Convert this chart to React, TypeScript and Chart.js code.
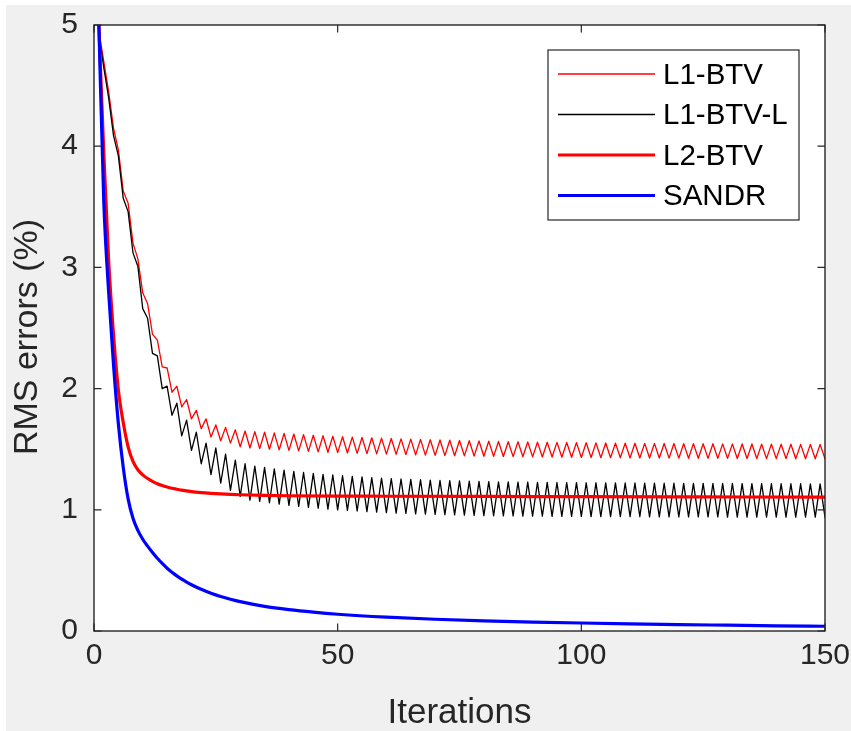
import React, { useEffect, useRef } from "react";
import { Chart, registerables } from "chart.js";

Chart.register(...registerables);

// ---------- data ----------
const iterations: number[] = Array.from({ length: 150 }, (_, i) => i + 1);

const l1btv: number[] = [
  4.95, 4.70, 4.45, 4.15, 3.97, 3.63, 3.53, 3.20, 3.07, 2.79,
  2.70, 2.45, 2.40, 2.18, 2.17, 1.97, 2.02, 1.85, 1.91, 1.75,
  1.82, 1.67, 1.75, 1.60, 1.70, 1.57, 1.68, 1.55, 1.66, 1.52,
  1.65, 1.51, 1.645, 1.505, 1.640, 1.500, 1.635, 1.495, 1.630, 1.490,
  1.625, 1.486, 1.620, 1.482, 1.615, 1.478, 1.611, 1.475, 1.607, 1.472,
  1.603, 1.469, 1.600, 1.466, 1.597, 1.463, 1.594, 1.461, 1.591, 1.459,
  1.588, 1.457, 1.585, 1.455, 1.583, 1.453, 1.581, 1.451, 1.578, 1.449,
  1.576, 1.447, 1.574, 1.446, 1.572, 1.445, 1.570, 1.443, 1.568, 1.442,
  1.566, 1.441, 1.564, 1.440, 1.562, 1.439, 1.561, 1.438, 1.560, 1.437,
  1.558, 1.436, 1.557, 1.435, 1.556, 1.434, 1.555, 1.433, 1.554, 1.432,
  1.553, 1.431, 1.552, 1.430, 1.551, 1.430, 1.550, 1.429, 1.550, 1.428,
  1.549, 1.428, 1.548, 1.427, 1.548, 1.427, 1.547, 1.426, 1.547, 1.426,
  1.546, 1.425, 1.546, 1.425, 1.545, 1.424, 1.545, 1.424, 1.544, 1.424,
  1.544, 1.423, 1.543, 1.423, 1.543, 1.423, 1.542, 1.422, 1.542, 1.422,
  1.541, 1.422, 1.541, 1.421, 1.540, 1.421, 1.540, 1.421, 1.540, 1.420,
];

const l1btvL: number[] = [
  4.93, 4.65, 4.40, 4.09, 3.92, 3.57, 3.46, 3.12, 3.01, 2.66,
  2.58, 2.29, 2.27, 2.00, 2.02, 1.78, 1.88, 1.61, 1.74, 1.49,
  1.64, 1.38, 1.55, 1.29, 1.51, 1.22, 1.46, 1.16, 1.41, 1.11,
  1.38, 1.08, 1.36, 1.07, 1.35, 1.058, 1.338, 1.047, 1.327, 1.037,
  1.317, 1.028, 1.308, 1.020, 1.300, 1.013, 1.293, 1.006, 1.287, 1.000,
  1.281, 0.995, 1.276, 0.990, 1.271, 0.985, 1.266, 0.981, 1.262, 0.977,
  1.258, 0.973, 1.254, 0.970, 1.251, 0.967, 1.248, 0.964, 1.245, 0.962,
  1.242, 0.960, 1.240, 0.958, 1.238, 0.956, 1.236, 0.954, 1.234, 0.952,
  1.232, 0.951, 1.231, 0.950, 1.230, 0.949, 1.229, 0.948, 1.228, 0.947,
  1.227, 0.947, 1.226, 0.946, 1.225, 0.946, 1.225, 0.945, 1.224, 0.945,
  1.223, 0.944, 1.223, 0.944, 1.222, 0.944, 1.222, 0.943, 1.221, 0.943,
  1.221, 0.943, 1.220, 0.942, 1.220, 0.942, 1.219, 0.942, 1.219, 0.942,
  1.218, 0.941, 1.218, 0.941, 1.218, 0.941, 1.217, 0.941, 1.217, 0.940,
  1.217, 0.940, 1.216, 0.940, 1.216, 0.940, 1.216, 0.940, 1.215, 0.939,
  1.215, 0.939, 1.215, 0.939, 1.215, 0.939, 1.214, 0.939, 1.214, 0.938,
];

const l2Iter: number[] = [
  1, 2, 3, 4, 5, 6, 7, 8, 9, 10, 11, 12, 13, 14, 15, 16, 17, 18, 19, 20,
  22, 24, 26, 28, 30, 35, 40, 50, 60, 80, 100, 125, 150,
];
const l2btv: number[] = [
  5.0, 3.95, 3.06, 2.45, 1.99, 1.72, 1.52, 1.40, 1.33, 1.288, 1.258, 1.235,
  1.215, 1.20, 1.188, 1.178, 1.170, 1.162, 1.156, 1.150,
  1.142, 1.136, 1.131, 1.127, 1.124, 1.119, 1.116, 1.113, 1.112, 1.110,
  1.108, 1.106, 1.105,
];

const sandrIter: number[] = [
  1, 2, 3, 4, 5, 6, 7, 8, 9, 10, 11, 12, 13, 14, 15, 16, 17, 18, 19, 20,
  22, 24, 26, 28, 30, 35, 40, 45, 50, 60, 70, 80, 90, 100, 110, 120, 130, 140, 150,
];
const sandr: number[] = [
  5.0, 3.55, 2.80, 2.20, 1.71, 1.35, 1.09, 0.93, 0.83, 0.757, 0.70, 0.648,
  0.600, 0.557, 0.518, 0.485, 0.455, 0.428, 0.404, 0.382,
  0.344, 0.312, 0.285, 0.262, 0.242, 0.203, 0.176, 0.155, 0.138, 0.114,
  0.097, 0.084, 0.074, 0.066, 0.059, 0.053, 0.048, 0.043, 0.039,
];

const seriesLabels: string[] = ["L1-BTV", "L1-BTV-L", "L2-BTV", "SANDR"];
const xTicks: number[] = [0, 50, 100, 150];
const yTicks: number[] = [0, 1, 2, 3, 4, 5];
const xTitle = "Iterations";
const yTitle = "RMS errors (%)";

const FONT = "'Liberation Sans', Arial, Helvetica, sans-serif";
const AXIS_COLOR = "#262626";

const matlabPlugin = {
  id: "matlabLook",
  beforeDraw(chart: any) {
    const { ctx, width, height, chartArea: a } = chart;
    ctx.save();
    ctx.fillStyle = "#ffffff";
    ctx.fillRect(0, 0, width, height);
    ctx.fillStyle = "#f0f0f0";
    ctx.fillRect(6, 5, width - 6, height - 5);
    ctx.fillStyle = "#ffffff";
    ctx.fillRect(a.left, a.top, a.right - a.left, a.bottom - a.top);
    ctx.restore();
  },
  afterDatasetsDraw(chart: any) {
    const { ctx, chartArea: a, scales } = chart;
    const xs = scales.x;
    const ys = scales.y;
    ctx.save();
    // axes box
    ctx.strokeStyle = AXIS_COLOR;
    ctx.lineWidth = 1.4;
    ctx.strokeRect(a.left, a.top, a.right - a.left, a.bottom - a.top);
    // inward ticks
    const tl = 7.5;
    ctx.lineWidth = 1.2;
    ctx.beginPath();
    xTicks.forEach((v) => {
      const px = xs.getPixelForValue(v);
      ctx.moveTo(px, a.bottom);
      ctx.lineTo(px, a.bottom - tl);
      ctx.moveTo(px, a.top);
      ctx.lineTo(px, a.top + tl);
    });
    yTicks.forEach((v) => {
      const py = ys.getPixelForValue(v);
      ctx.moveTo(a.left, py);
      ctx.lineTo(a.left + tl, py);
      ctx.moveTo(a.right, py);
      ctx.lineTo(a.right - tl, py);
    });
    ctx.stroke();

    // y axis title (rotated)
    ctx.fillStyle = AXIS_COLOR;
    ctx.font = `34px ${FONT}`;
    ctx.textAlign = "center";
    ctx.textBaseline = "middle";
    ctx.save();
    ctx.translate(28, (a.top + a.bottom) / 2 + 9);
    ctx.rotate(-Math.PI / 2);
    ctx.fillText(yTitle, 0, 0);
    ctx.restore();

    // legend
    const bx = a.right - 277;
    const by = a.top + 25;
    const bw = 251;
    const bh = 170;
    ctx.fillStyle = "#ffffff";
    ctx.fillRect(bx, by, bw, bh);
    ctx.strokeStyle = AXIS_COLOR;
    ctx.lineWidth = 1.2;
    ctx.strokeRect(bx, by, bw, bh);
    const legendOrder = [0, 1, 2, 3];
    legendOrder.forEach((di, i) => {
      const ds = chart.data.datasets[di];
      const yy = by + 24 + i * 40.5;
      ctx.strokeStyle = ds.borderColor;
      ctx.lineWidth = ds.borderWidth;
      ctx.beginPath();
      ctx.moveTo(bx + 10, yy);
      ctx.lineTo(bx + 107, yy);
      ctx.stroke();
      ctx.fillStyle = "#000000";
      ctx.font = `29.5px ${FONT}`;
      ctx.textAlign = "left";
      ctx.textBaseline = "middle";
      ctx.fillText(ds.label, bx + 115, yy + 1.5);
    });
    ctx.restore();
  },
};

const zeroPadding = (s: any) => {
  s.paddingTop = 0;
  s.paddingBottom = 0;
  s.paddingLeft = 0;
  s.paddingRight = 0;
};

export default function App() {
  const canvasRef = useRef<HTMLCanvasElement | null>(null);

  useEffect(() => {
    const canvas = canvasRef.current;
    if (!canvas) return;

    const datasets = [
      {
        label: seriesLabels[0],
        data: iterations.map((x, i) => ({ x, y: l1btv[i] })),
        borderColor: "#ff0000",
        borderWidth: 1.3,
        order: 4,
      },
      {
        label: seriesLabels[1],
        data: iterations.map((x, i) => ({ x, y: l1btvL[i] })),
        borderColor: "#000000",
        borderWidth: 1.3,
        order: 3,
      },
      {
        label: seriesLabels[2],
        data: l2Iter.map((x, i) => ({ x, y: l2btv[i] })),
        borderColor: "#ff0000",
        borderWidth: 3.2,
        cubicInterpolationMode: "monotone",
        order: 2,
      },
      {
        label: seriesLabels[3],
        data: sandrIter.map((x, i) => ({ x, y: sandr[i] })),
        borderColor: "#0000ff",
        borderWidth: 3.2,
        cubicInterpolationMode: "monotone",
        order: 1,
      },
    ].map((d) => ({
      ...d,
      fill: false,
      pointRadius: 0,
      clip: 0,
      borderJoinStyle: "round" as const,
      borderCapStyle: "round" as const,
    }));

    const chart = new Chart(canvas, {
      type: "line",
      data: { datasets },
      options: {
        responsive: false,
        animation: false,
        devicePixelRatio: 1,
        layout: { padding: { left: 0, right: 26, top: 25, bottom: 0 } },
        plugins: {
          legend: { display: false },
          tooltip: { enabled: false },
        },
        elements: { point: { radius: 0 } },
        scales: {
          x: {
            type: "linear",
            min: 0,
            max: 150,
            afterBuildTicks: (s: any) => {
              s.ticks = xTicks.map((v) => ({ value: v }));
            },
            afterFit: (s: any) => {
              s.height = 100;
              zeroPadding(s);
            },
            grid: { display: false, drawTicks: false },
            border: { display: false },
            ticks: {
              font: { family: FONT, size: 30 },
              color: AXIS_COLOR,
              padding: 7,
              maxRotation: 0,
              autoSkip: false,
            },
            title: {
              display: true,
              text: xTitle,
              font: { family: FONT, size: 35, lineHeight: 1 },
              color: AXIS_COLOR,
              padding: { top: 0, bottom: 0 },
            },
          },
          y: {
            type: "linear",
            min: 0,
            max: 5,
            afterBuildTicks: (s: any) => {
              s.ticks = yTicks.map((v) => ({ value: v }));
            },
            afterFit: (s: any) => {
              s.width = 94;
              zeroPadding(s);
            },
            grid: { display: false, drawTicks: false },
            border: { display: false },
            ticks: {
              font: { family: FONT, size: 30 },
              color: AXIS_COLOR,
              padding: 16,
              autoSkip: false,
            },
            title: { display: false },
          },
        },
      } as any,
      plugins: [matlabPlugin],
    });

    return () => {
      chart.destroy();
    };
  }, []);

  return (
    <div style={{ position: "fixed", left: 0, top: 0, width: 851, height: 731 }}>
      <canvas ref={canvasRef} width={851} height={731} style={{ width: 851, height: 731, display: "block" }} />
    </div>
  );
}
